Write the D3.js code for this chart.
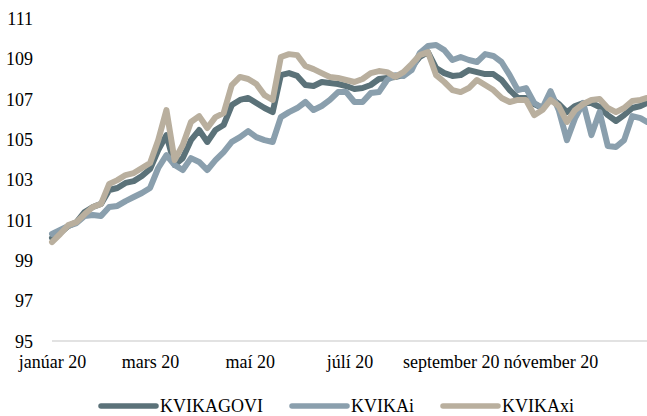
<!DOCTYPE html>
<html><head><meta charset="utf-8">
<script src="https://cdn.jsdelivr.net/npm/d3@7"></script>
<style>
html,body{margin:0;padding:0;background:#fff;}
svg{display:block;}
text{font-family:"Liberation Serif","Times New Roman",serif;font-size:18px;fill:#000;}
</style></head>
<body><svg id="c" width="647" height="416"></svg>
<script>
const dates = ["2020-01-01","2020-01-06","2020-01-11","2020-01-16","2020-01-21","2020-01-26","2020-01-31","2020-02-05","2020-02-10","2020-02-15","2020-02-20","2020-02-25","2020-03-01","2020-03-06","2020-03-11","2020-03-16","2020-03-21","2020-03-26","2020-03-31","2020-04-05","2020-04-10","2020-04-15","2020-04-20","2020-04-25","2020-04-30","2020-05-05","2020-05-10","2020-05-15","2020-05-20","2020-05-25","2020-05-30","2020-06-04","2020-06-09","2020-06-14","2020-06-19","2020-06-24","2020-06-29","2020-07-04","2020-07-09","2020-07-14","2020-07-19","2020-07-24","2020-07-29","2020-08-03","2020-08-08","2020-08-13","2020-08-18","2020-08-23","2020-08-28","2020-09-02","2020-09-07","2020-09-12","2020-09-17","2020-09-22","2020-09-27","2020-10-02","2020-10-07","2020-10-12","2020-10-17","2020-10-22","2020-10-27","2020-11-01","2020-11-06","2020-11-11","2020-11-16","2020-11-21","2020-11-26","2020-12-01","2020-12-06","2020-12-11","2020-12-16","2020-12-21","2020-12-26","2020-12-30"];

const kvikagovi = [100.10,100.35,100.70,100.89,101.39,101.64,101.79,102.48,102.58,102.83,102.92,103.17,103.52,104.46,105.20,103.72,104.06,104.95,105.45,104.86,105.45,105.70,106.69,106.94,107.04,106.79,106.54,106.34,108.17,108.27,108.13,107.68,107.63,107.83,107.78,107.73,107.63,107.48,107.53,107.68,107.98,108.03,108.08,108.17,108.57,109.07,109.31,108.52,108.27,108.13,108.17,108.42,108.32,108.22,108.22,107.93,107.43,107.04,107.04,106.74,106.54,107.04,106.74,106.34,106.64,106.79,106.79,106.59,106.19,105.90,106.19,106.54,106.64,106.79];

const kvikai = [100.30,100.50,100.70,100.84,101.19,101.24,101.19,101.64,101.69,101.93,102.13,102.33,102.58,103.57,104.21,103.72,103.47,104.06,103.87,103.47,103.96,104.36,104.86,105.10,105.40,105.10,104.95,104.86,106.09,106.34,106.54,106.84,106.44,106.64,106.94,107.33,107.33,106.84,106.84,107.28,107.33,107.93,108.17,108.13,108.42,109.26,109.61,109.66,109.41,108.92,109.07,108.92,108.82,109.21,109.12,108.82,108.17,107.43,107.53,106.79,106.54,107.38,106.44,104.95,106.04,106.79,105.20,106.34,104.66,104.61,104.95,106.14,106.04,105.85];

const kvikaxi = [99.90,100.30,100.74,100.89,101.29,101.64,101.79,102.78,102.97,103.22,103.32,103.57,103.82,104.95,106.44,103.96,104.71,105.85,106.14,105.55,106.09,106.29,107.68,108.08,107.98,107.73,107.18,106.94,109.07,109.21,109.16,108.62,108.47,108.27,108.08,108.03,107.93,107.83,107.98,108.27,108.37,108.32,108.08,108.32,108.72,109.16,109.31,108.17,107.83,107.43,107.33,107.53,107.93,107.68,107.43,107.04,106.84,106.94,106.94,106.19,106.44,106.94,106.64,105.85,106.44,106.74,106.94,106.99,106.54,106.34,106.54,106.89,106.94,107.04];

const seriesNames = ["KVIKAGOVI","KVIKAi","KVIKAxi"];
const seriesColors = ["#5b7279","#8a9fad","#b9af9e"];
const yTicks = [95,97,99,101,103,105,107,109,111];
const monthNames = ["janúar","febrúar","mars","apríl","maí","júní","júlí","ágúst","september","október","nóvember","desember"];

(function () {
const parse = d3.timeParse("%Y-%m-%d");
const dd = dates.map(parse);
const seriesData = [kvikagovi, kvikai, kvikaxi];

const svg = d3.select("#c");
const mLeft = 52, mRight = 647, mTop = 18, mBottom = 341;

const x = d3.scaleTime().domain([dd[0], dd[dd.length-1]]).range([mLeft, mRight]);
const y = d3.scaleLinear().domain([95, 111]).range([mBottom, mTop]);

svg.append("line").attr("x1", mLeft).attr("x2", mRight)
  .attr("y1", y(95)).attr("y2", y(95))
  .attr("stroke", "#d9d9d9").attr("stroke-width", 1.5);

const yAxis = d3.axisLeft(y).tickValues(yTicks).tickSize(0).tickPadding(0);
const gy = svg.append("g").attr("transform", "translate(33,0)").call(yAxis);
gy.select(".domain").remove();
gy.selectAll("text").style("font-family", '"Liberation Serif",serif').style("font-size", "18px").attr("fill", "#000").attr("dy", "0.35em");

const xTicks = [0,2,4,6,8,10].map(m => new Date(2020, m, 1));
const xAxis = d3.axisBottom(x).tickValues(xTicks).tickSize(0).tickPadding(0)
  .tickFormat(d => monthNames[d.getMonth()] + " 20");
const gx = svg.append("g").attr("transform", "translate(0,362)").call(xAxis);
gx.select(".domain").remove();
gx.selectAll("text").style("font-family", '"Liberation Serif",serif').style("font-size", "18px").attr("fill", "#000").attr("dy", "0.35em");

const line = d3.line().x((d, i) => x(dd[i])).y(d => y(d));
seriesData.forEach((s, k) => {
  svg.append("path").datum(s).attr("d", line)
    .attr("fill", "none").attr("stroke", seriesColors[k])
    .attr("stroke-width", 6).attr("stroke-linejoin", "round").attr("stroke-linecap", "round");
});

const legX = [101, 292, 443];
seriesNames.forEach((n, k) => {
  const g = svg.append("g").attr("transform", `translate(${legX[k]},406)`);
  g.append("line").attr("x1", 0).attr("x2", 55).attr("y1", 0).attr("y2", 0)
    .attr("stroke", seriesColors[k]).attr("stroke-width", 5.5).attr("stroke-linecap", "round");
  g.append("text").attr("x", 59).attr("y", 0).attr("dy", "0.35em").text(n);
});
})();
</script></body></html>
